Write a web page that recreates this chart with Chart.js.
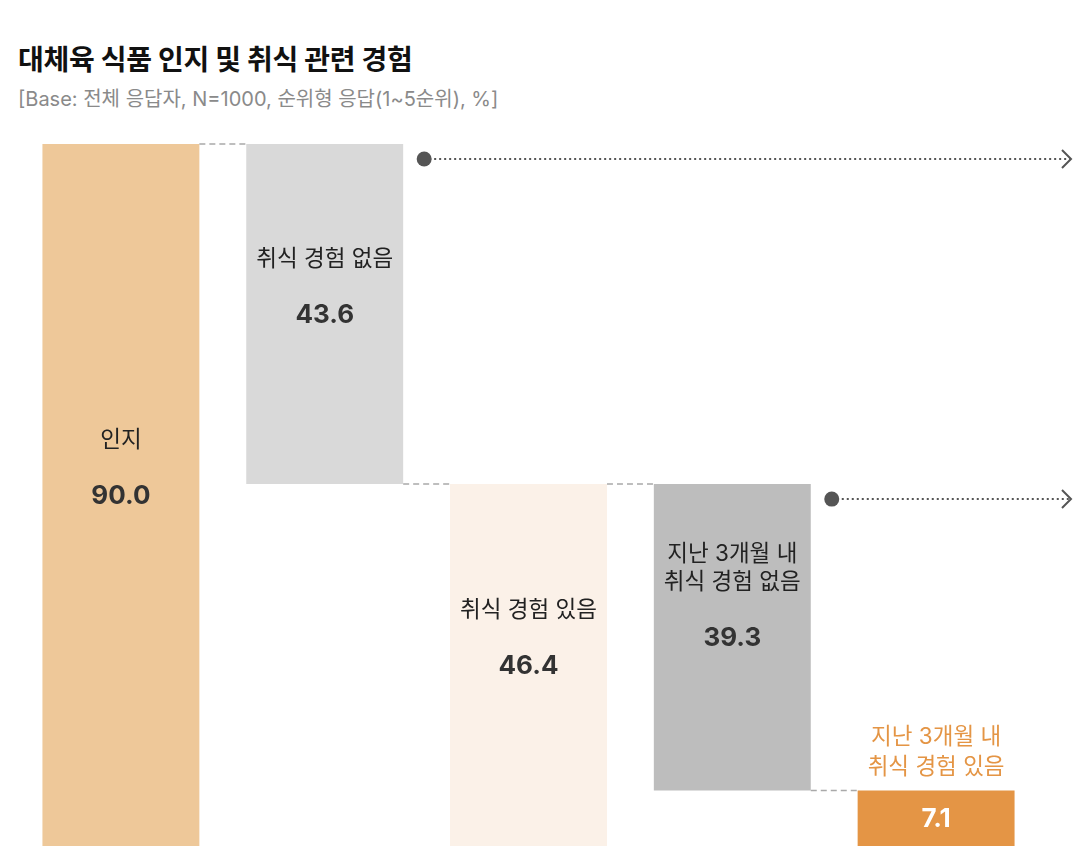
<!DOCTYPE html>
<html lang="ko">
<head>
<meta charset="utf-8">
<script src="https://cdn.jsdelivr.net/npm/chart.js@4"></script>
<style>
  html, body { margin: 0; padding: 0; background: #fff; }
  #wrap { position: relative; width: 1088px; height: 866px; }
  #title { position: absolute; left: 18px; top: 46px; font-family: Inter, "Noto Sans CJK KR", sans-serif; font-weight: 700; font-size: 28px; color: #111; line-height: 1; letter-spacing: -0.3px; }
  #subtitle { position: absolute; left: 18px; top: 89px; font-family: Inter, "Noto Sans CJK KR", sans-serif; font-weight: 400; font-size: 20px; color: #8a8a8a; line-height: 1; }
  canvas { position: absolute; left: 0; top: 0; }
</style>
</head>
<body>
<div id="wrap">
  <div id="title">대체육 식품 인지 및 취식 관련 경험</div>
  <div id="subtitle">[Base: 전체 응답자, N=1000, 순위형 응답(1~5순위), %]</div>
  <canvas id="c" width="1088" height="866"></canvas>
</div>
<script>
const categories = ['인지', '취식 경험 없음', '취식 경험 있음', '지난 3개월 내\n취식 경험 없음', '지난 3개월 내\n취식 경험 있음'];
const values = [90.0, 43.6, 46.4, 39.3, 7.1];
const barLows = [0, 46.4, 0, 7.1, 0];
const barHighs = [90.0, 90.0, 46.4, 46.4, 7.1];
const barColors = ['#EEC899', '#D9D9D9', '#FBF1E8', '#BDBDBD', '#E49545'];
const arrowFrom = [1, 3]; // bars followed by an arrow to the right

const FONT = 'Inter, "Noto Sans CJK KR", sans-serif';

const overlay = {
  id: 'overlay',
  afterDatasetsDraw(chart) {
    const ctx = chart.ctx;
    const meta = chart.getDatasetMeta(0);
    const bars = meta.data.map(b => {
      const p = b.getProps(['x', 'y', 'base', 'width'], true);
      const top = Math.min(p.y, p.base), bottom = Math.max(p.y, p.base);
      return { left: p.x - p.width / 2, right: p.x + p.width / 2, top, bottom, cx: p.x, cy: (top + bottom) / 2 };
    });
    ctx.save();
    // dashed connectors
    ctx.strokeStyle = '#A9A9A9';
    ctx.lineWidth = 1.5;
    ctx.setLineDash([6, 4]);
    for (let i = 0; i < bars.length - 1; i++) {
      const a = bars[i], b = bars[i + 1];
      const y = (Math.abs(a.top - b.top) < 1 || Math.abs(a.top - b.bottom) < 1) ? a.top : a.bottom;
      ctx.beginPath();
      ctx.moveTo(a.right, y);
      ctx.lineTo(b.left, y);
      ctx.stroke();
    }
    // arrows
    const endX = chart.width - 17;
    arrowFrom.forEach(i => {
      const b = bars[i];
      const x0 = b.right + 21, y0 = b.top + 15;
      ctx.setLineDash([2, 3]);
      ctx.strokeStyle = '#555';
      ctx.lineWidth = 2;
      ctx.beginPath();
      ctx.moveTo(x0, y0);
      ctx.lineTo(endX - 1, y0);
      ctx.stroke();
      ctx.setLineDash([]);
      ctx.beginPath();
      ctx.moveTo(endX - 9, y0 - 9);
      ctx.lineTo(endX, y0);
      ctx.lineTo(endX - 9, y0 + 9);
      ctx.stroke();
      ctx.fillStyle = '#555';
      ctx.beginPath();
      ctx.arc(x0, y0, 7.5, 0, Math.PI * 2);
      ctx.fill();
    });
    // labels
    ctx.setLineDash([]);
    ctx.textAlign = 'center';
    ctx.textBaseline = 'middle';
    bars.forEach((b, i) => {
      const lines = categories[i].split('\n');
      const last = i === bars.length - 1;
      ctx.font = '700 26px ' + FONT;
      ctx.fillStyle = last ? '#FFFFFF' : '#333333';
      ctx.fillText(values[i].toFixed(1), b.cx, b.cy + 1);
      ctx.font = '400 22.5px ' + FONT;
      if (last) {
        ctx.fillStyle = '#E49545';
        lines.forEach((t, k) => ctx.fillText(t, b.cx, b.top - 53 + k * 30));
      } else {
        ctx.fillStyle = '#222222';
        const lh = 28;
        lines.forEach((t, k) => ctx.fillText(t, b.cx, b.cy - 55 - (lines.length - 1 - k) * lh));
      }
    });
    ctx.restore();
  }
};

new Chart(document.getElementById('c'), {
  type: 'bar',
  data: {
    labels: categories,
    datasets: [{
      data: barLows.map((lo, i) => [lo, barHighs[i]]),
      backgroundColor: barColors,
      borderWidth: 0,
      borderSkipped: false,
      barPercentage: 0.77,
      categoryPercentage: 1.0
    }]
  },
  options: {
    responsive: false,
    animation: false,
    layout: { padding: { top: 144, bottom: 20, left: 19, right: 50 } },
    plugins: { legend: { display: false }, tooltip: { enabled: false }, title: { display: false } },
    scales: {
      x: { display: false, offset: true },
      y: { display: false, min: 0, max: 90 }
    }
  },
  plugins: [overlay]
});
</script>
</body>
</html>
